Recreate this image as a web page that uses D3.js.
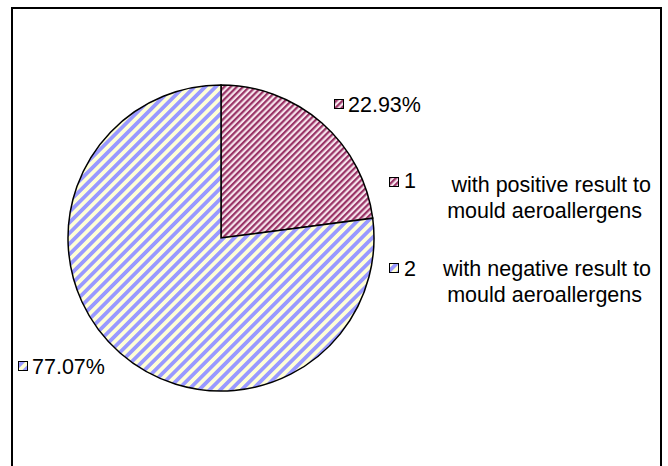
<!DOCTYPE html>
<html>
<head>
<meta charset="utf-8">
<script src="https://cdn.jsdelivr.net/npm/d3@7"></script>
<style>
  body { margin: 0; background: #fff; }
  text { font-family: "Liberation Sans", Arial, sans-serif; fill: #000; }
</style>
</head>
<body>
<script>
// chart data
var categories = ["1", "2"];
var legendLines = [
  ["with positive result to", "mould aeroallergens"],
  ["with negative result to", "mould aeroallergens"]
];
var shares = [22.93, 77.07];
var labels = ["22.93%", "77.07%"];

var width = 668, height = 466;
var cx = 221, cy = 238, r = 153;
var fs = 21.5;

var svg = d3.select("body").append("svg")
  .attr("width", width)
  .attr("height", height);

// stripe patterns
var defs = svg.append("defs");
var pats = [
  {id: "pat1", bg: "#f6e4ec", fg: "#993366", size: 4.4},
  {id: "pat2", bg: "#ffffd6", fg: "#9999ff", size: 7.5}
];
pats.forEach(function(p){
  var pt = defs.append("pattern")
    .attr("id", p.id)
    .attr("patternUnits", "userSpaceOnUse")
    .attr("width", p.size).attr("height", p.size)
    .attr("patternTransform", "rotate(45)");
  pt.append("rect").attr("width", p.size).attr("height", p.size).attr("fill", p.bg);
  pt.append("rect").attr("width", p.size / 2).attr("height", p.size).attr("fill", p.fg);
});

// frame
svg.append("rect")
  .attr("x", 12).attr("y", 8)
  .attr("width", 649).attr("height", 470)
  .attr("fill", "none")
  .attr("stroke", "#000")
  .attr("stroke-width", 2);

var pie = d3.pie().sort(null).value(function(d){ return d; });
var arc = d3.arc().innerRadius(0).outerRadius(r);

var g = svg.append("g").attr("transform", "translate(" + cx + "," + cy + ")");
g.selectAll("path").data(pie(shares)).enter().append("path")
  .attr("d", arc)
  .attr("fill", function(d, i){ return "url(#pat" + (i + 1) + ")"; })
  .attr("stroke", "#000")
  .attr("stroke-width", 1.5);

// data labels (swatch x, text baseline y)
var labelPos = [[334, 112], [18, 374]];
labels.forEach(function(t, i){
  svg.append("rect")
    .attr("x", labelPos[i][0] + 0.5).attr("y", labelPos[i][1] - 12.5)
    .attr("width", 9).attr("height", 9)
    .attr("fill", "url(#pat" + (i + 1) + ")")
    .attr("stroke", "#000");
  svg.append("text")
    .attr("x", labelPos[i][0] + 14).attr("y", labelPos[i][1])
    .attr("font-size", fs)
    .text(t);
});

// legend
var legY = [192, 276];
categories.forEach(function(c, i){
  var y = legY[i];
  svg.append("rect")
    .attr("x", 389.5).attr("y", y - (i === 0 ? 14.5 : 12.5))
    .attr("width", 9).attr("height", 9)
    .attr("fill", "url(#pat" + (i + 1) + ")")
    .attr("stroke", "#000");
  svg.append("text")
    .attr("x", 404).attr("y", i === 0 ? y - 4 : y)
    .attr("font-size", fs)
    .text(c);
  legendLines[i].forEach(function(line, j){
    svg.append("text")
      .attr("x", j === 0 ? 651 : 642).attr("y", y + j * 26)
      .attr("text-anchor", "end")
      .attr("font-size", fs)
      .text(line);
  });
});
</script>
</body>
</html>
